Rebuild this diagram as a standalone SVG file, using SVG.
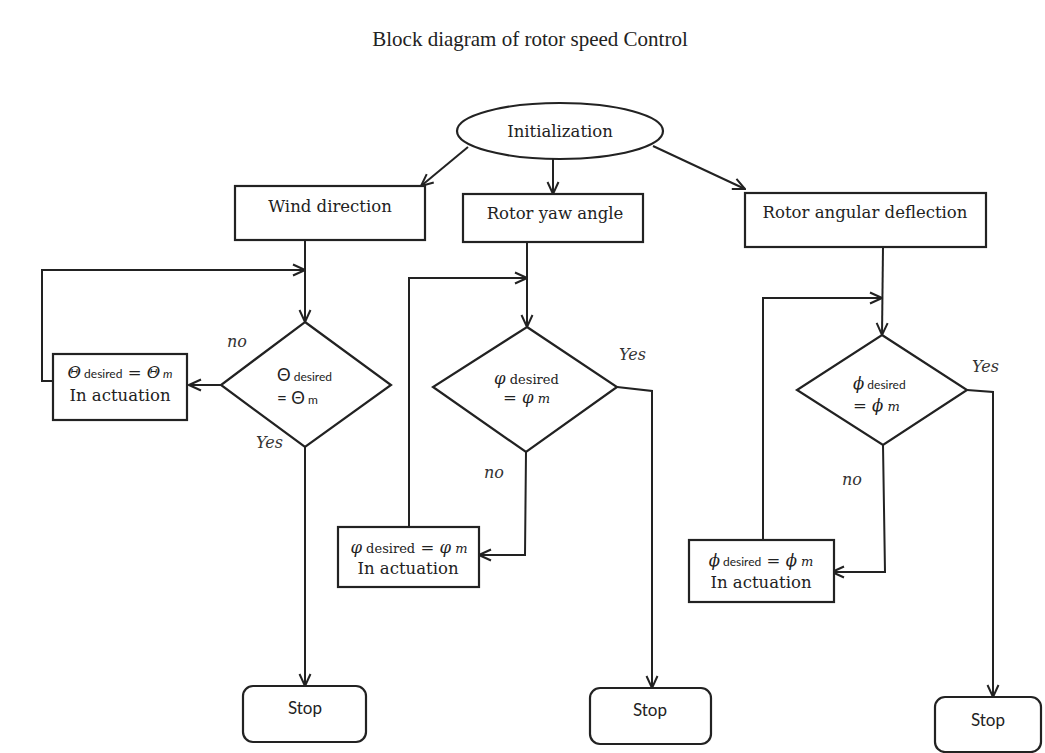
<svg xmlns="http://www.w3.org/2000/svg" width="1045" height="753" viewBox="0 0 1045 753">
<style>
.sh{fill:#fff;stroke:#222;stroke-width:2.2}
.ln{fill:none;stroke:#222;stroke-width:2}
.ar{marker-end:url(#arr)}
.t{font-family:"DejaVu Serif","Liberation Serif",serif;font-size:16.5px;fill:#222}
.ttl{font-family:"Liberation Serif",serif;font-size:21px;fill:#222}
.lb{font-family:"DejaVu Serif","Liberation Serif",serif;font-style:italic;font-size:16px;fill:#333}
.s{font-family:Lato,"Open Sans",sans-serif;font-size:17px;fill:#222}
.sm{font-family:Lato,"Open Sans",sans-serif;font-size:12px}
.smr{font-family:"DejaVu Serif",serif;font-size:13px}
.it{font-style:italic}
</style>
<defs>
<marker id="arr" viewBox="0 0 14 14" refX="13" refY="7" markerWidth="14" markerHeight="14" markerUnits="userSpaceOnUse" orient="auto">
<path d="M1,1.5 L13,7 L1,12.5" fill="none" stroke="#222" stroke-width="2"/>
</marker>
</defs>
<rect width="1045" height="753" fill="#fff"/>
<text class="ttl" x="530" y="46" text-anchor="middle">Block diagram of rotor speed Control</text>

<g id="connectors">
<line class="ln ar" x1="468" y1="147" x2="421" y2="186"/>
<line class="ln ar" x1="553" y1="159" x2="553" y2="194"/>
<line class="ln ar" x1="653" y1="146" x2="745" y2="189"/>
<line class="ln ar" x1="305" y1="240" x2="305" y2="322"/>
<line class="ln ar" x1="221" y1="385" x2="189" y2="385"/>
<polyline class="ln ar" points="53,381 42,381 42,270 305,270"/>
<line class="ln ar" x1="305" y1="447" x2="305" y2="686"/>
<line class="ln ar" x1="527" y1="242" x2="527" y2="327"/>
<polyline class="ln ar" points="617,387 652,391 652,688"/>
<polyline class="ln ar" points="526,452 525,555 479,555"/>
<polyline class="ln ar" points="409,527 409,278 527,278"/>
<line class="ln ar" x1="883" y1="247" x2="882" y2="335"/>
<polyline class="ln ar" points="967,390 993,392 993,697"/>
<polyline class="ln ar" points="883,445 885,572 832,572"/>
<polyline class="ln ar" points="763,540 763,298 882,298"/>
</g>

<g id="init">
<ellipse class="sh" cx="560" cy="131" rx="103" ry="28"/>
<text class="t" x="560" y="137" text-anchor="middle">Initialization</text>
</g>
<g id="wind">
<rect class="sh" x="235" y="186" width="190" height="54"/>
<text class="t" x="330" y="212" text-anchor="middle">Wind direction</text>
</g>
<g id="yaw">
<rect class="sh" x="463" y="194" width="180" height="48"/>
<text class="t" x="555" y="219" text-anchor="middle">Rotor yaw angle</text>
</g>
<g id="deflection">
<rect class="sh" x="745" y="193" width="241" height="54"/>
<text class="t" x="865" y="218" text-anchor="middle">Rotor angular deflection</text>
</g>

<g id="decision1">
<polygon class="sh" points="305,322 391,385 305,447 221,385"/>
<text class="s" x="277" y="381">Θ<tspan class="sm"> desired</tspan></text>
<text class="s" x="277" y="404">= Θ<tspan class="sm"> m</tspan></text>
</g>
<g id="actuation1">
<rect class="sh" x="53" y="354" width="134" height="66"/>
<text class="t" x="120" y="378" text-anchor="middle"><tspan class="it">Θ</tspan><tspan class="sm"> desired</tspan> = <tspan class="it">Θ</tspan><tspan class="sm it"> m</tspan></text>
<text class="t" x="120" y="401" text-anchor="middle">In actuation</text>
</g>
<g id="stop1">
<rect class="sh" x="243" y="686" width="123" height="56" rx="10"/>
<text class="s" x="305" y="714" text-anchor="middle">Stop</text>
</g>

<g id="decision2">
<polygon class="sh" points="527,327 617,387 526,452 433,387"/>
<text class="t" x="494" y="384"><tspan class="it">φ</tspan><tspan class="smr"> desired</tspan></text>
<text class="t" x="503" y="403">= <tspan class="it">φ</tspan><tspan class="smr it"> m</tspan></text>
</g>
<g id="actuation2">
<rect class="sh" x="338" y="527" width="141" height="60"/>
<text class="t" x="409" y="553" text-anchor="middle"><tspan class="it">φ</tspan><tspan class="smr"> desired</tspan> = <tspan class="it">φ</tspan><tspan class="smr it"> m</tspan></text>
<text class="t" x="408" y="574" text-anchor="middle">In actuation</text>
</g>
<g id="stop2">
<rect class="sh" x="590" y="688" width="121" height="56" rx="10"/>
<text class="s" x="650" y="716" text-anchor="middle">Stop</text>
</g>

<g id="decision3">
<polygon class="sh" points="882,335 967,390 883,445 797,390"/>
<text class="t" x="853" y="389"><tspan class="it">ϕ</tspan><tspan class="sm"> desired</tspan></text>
<text class="t" x="853" y="411">= <tspan class="it">ϕ</tspan><tspan class="smr it"> m</tspan></text>
</g>
<g id="actuation3">
<rect class="sh" x="689" y="540" width="145" height="62"/>
<text class="t" x="761" y="566" text-anchor="middle"><tspan class="it">ϕ</tspan><tspan class="sm"> desired</tspan> = <tspan class="it">ϕ</tspan><tspan class="smr it"> m</tspan></text>
<text class="t" x="761" y="588" text-anchor="middle">In actuation</text>
</g>
<g id="stop3">
<rect class="sh" x="935" y="697" width="106" height="55" rx="10"/>
<text class="s" x="988" y="726" text-anchor="middle">Stop</text>
</g>

<g id="labels">
<text class="lb" x="227" y="347">no</text>
<text class="lb" x="256" y="448">Yes</text>
<text class="lb" x="619" y="360">Yes</text>
<text class="lb" x="484" y="478">no</text>
<text class="lb" x="972" y="372">Yes</text>
<text class="lb" x="842" y="485">no</text>
</g>
</svg>
